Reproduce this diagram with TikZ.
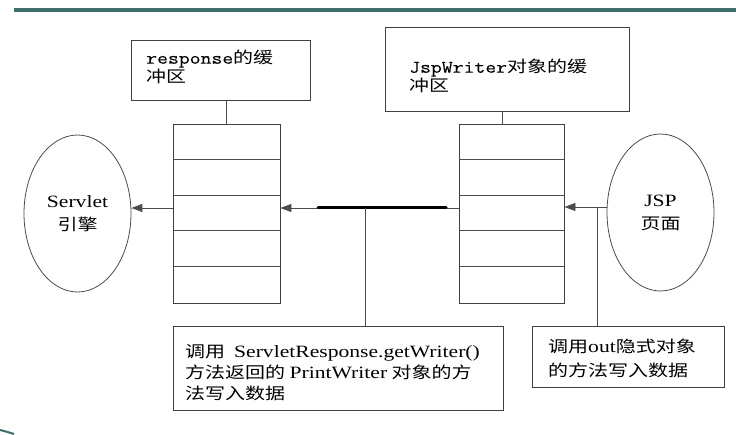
\documentclass[tikz,border=0pt]{standalone}
\usepackage{fontspec}
\setmainfont{Noto Sans CJK SC}[FakeStretch=1.25]
\newfontfamily\lat{Liberation Serif}[FakeStretch=1.25,Scale=1.08]
\setmonofont{Latin Modern Mono}[FakeStretch=1.2,Scale=1.1,FakeBold=0.25]
\usetikzlibrary{arrows.meta,shapes.geometric}
\definecolor{tealbar}{HTML}{3F6F6C}
\tikzset{
  box/.style={draw=black!75, line width=0.9pt, rectangle, inner sep=0pt},
  buffer/.style={box, minimum height=179pt},
  engine/.style={draw=black!70, line width=0.8pt, ellipse, minimum width=107pt,
    minimum height=157pt, inner sep=0pt, align=center,
    font=\fontsize{16}{23}\selectfont},
  link/.style={draw=black!70, line width=0.9pt},
  arr/.style={link, -{Triangle[length=11pt,width=8pt]}},
  note/.style={anchor=north west, inner sep=0pt, align=left,
    font=\fontsize{16}{21}\selectfont}
}
\begin{document}
\begin{tikzpicture}[x=1pt,y=-1pt]
\useasboundingbox (0,0) rectangle (736,435);
\fill[white] (0,0) rectangle (736,435);

% slide frame
\fill[tealbar] (14,8) rectangle (736,12.5);
\draw[tealbar, line width=2pt] (0,430) .. controls (6,431.5) .. (14,434);

% buffer labels
\node[box, minimum width=179pt, minimum height=60pt] (respbox) at (220.5,70) {};
\node[note, font=\fontsize{16}{16}\selectfont] (resptxt) at (146,50)
  {{\ttfamily response}的缓\\冲区};
\node[box, minimum width=244pt, minimum height=84pt] (jspbox) at (507,69) {};
\node[note, font=\fontsize{16}{15}\selectfont] (jsptxt) at (409,59)
  {{\ttfamily JspWriter}对象的缓\\冲区};

% the two buffers
\node[buffer, minimum width=107pt] (lbuf) at (226.5,213.5) {};
\node[buffer, minimum width=105pt] (rbuf) at (511.5,213.5) {};
\foreach \k in {1,...,4} {
  \draw[link] ([yshift=-\k*35.8pt]lbuf.north west) -- ([yshift=-\k*35.8pt]lbuf.north east);
  \draw[link] ([yshift=-\k*35.8pt]rbuf.north west) -- ([yshift=-\k*35.8pt]rbuf.north east);
}
\draw[link] (lbuf.north) -- (lbuf.north |- respbox.south);
\coordinate (rtop) at ([xshift=-9.5pt]rbuf.north);
\draw[link] (rtop) -- (rtop |- jspbox.south);

% engine and page
\node[engine] (servlet) at (77.5,213.5) {{\lat Servlet}\\引擎};
\node[engine] (jsp) at (660.5,212.5) {{\lat JSP}\\页面};

% data flow
\coordinate (lane) at (0,208);
\coordinate (lane2) at (0,207);
\draw[arr] (lbuf.west |- lane) -- (servlet.east |- lane);
\draw[arr] (rbuf.west |- lane) -- (lbuf.east |- lane);
\draw[arr] (jsp.west |- lane2) -- (rbuf.east |- lane2);
\coordinate (thickL) at (318,208);
\coordinate (thickR) at (446,208);
\draw[line width=3pt, black, line cap=round] (thickL) -- (thickR);

% notes
\node[box, minimum width=330pt, minimum height=84pt] (note1) at (338,368) {};
\node[note] (note1txt) at (185,344)
  {调用\ \ {\lat ServletResponse.getWriter()}\\方法返回的 {\lat PrintWriter} 对象的方\\法写入数据};
\node[box, minimum width=192pt, minimum height=61pt] (note2) at (628,356.5) {};
\node[note, font=\fontsize{16}{24}\selectfont] (note2txt) at (548,339)
  {调用{\lat out}隐式对象\\的方法写入数据};
\coordinate (tap1) at (365,208);
\coordinate (tap2) at (597,207);
\draw[link] (tap1) -- (tap1 |- note1.north);
\draw[link] (tap2) -- (tap2 |- note2.north);
\end{tikzpicture}
\end{document}
